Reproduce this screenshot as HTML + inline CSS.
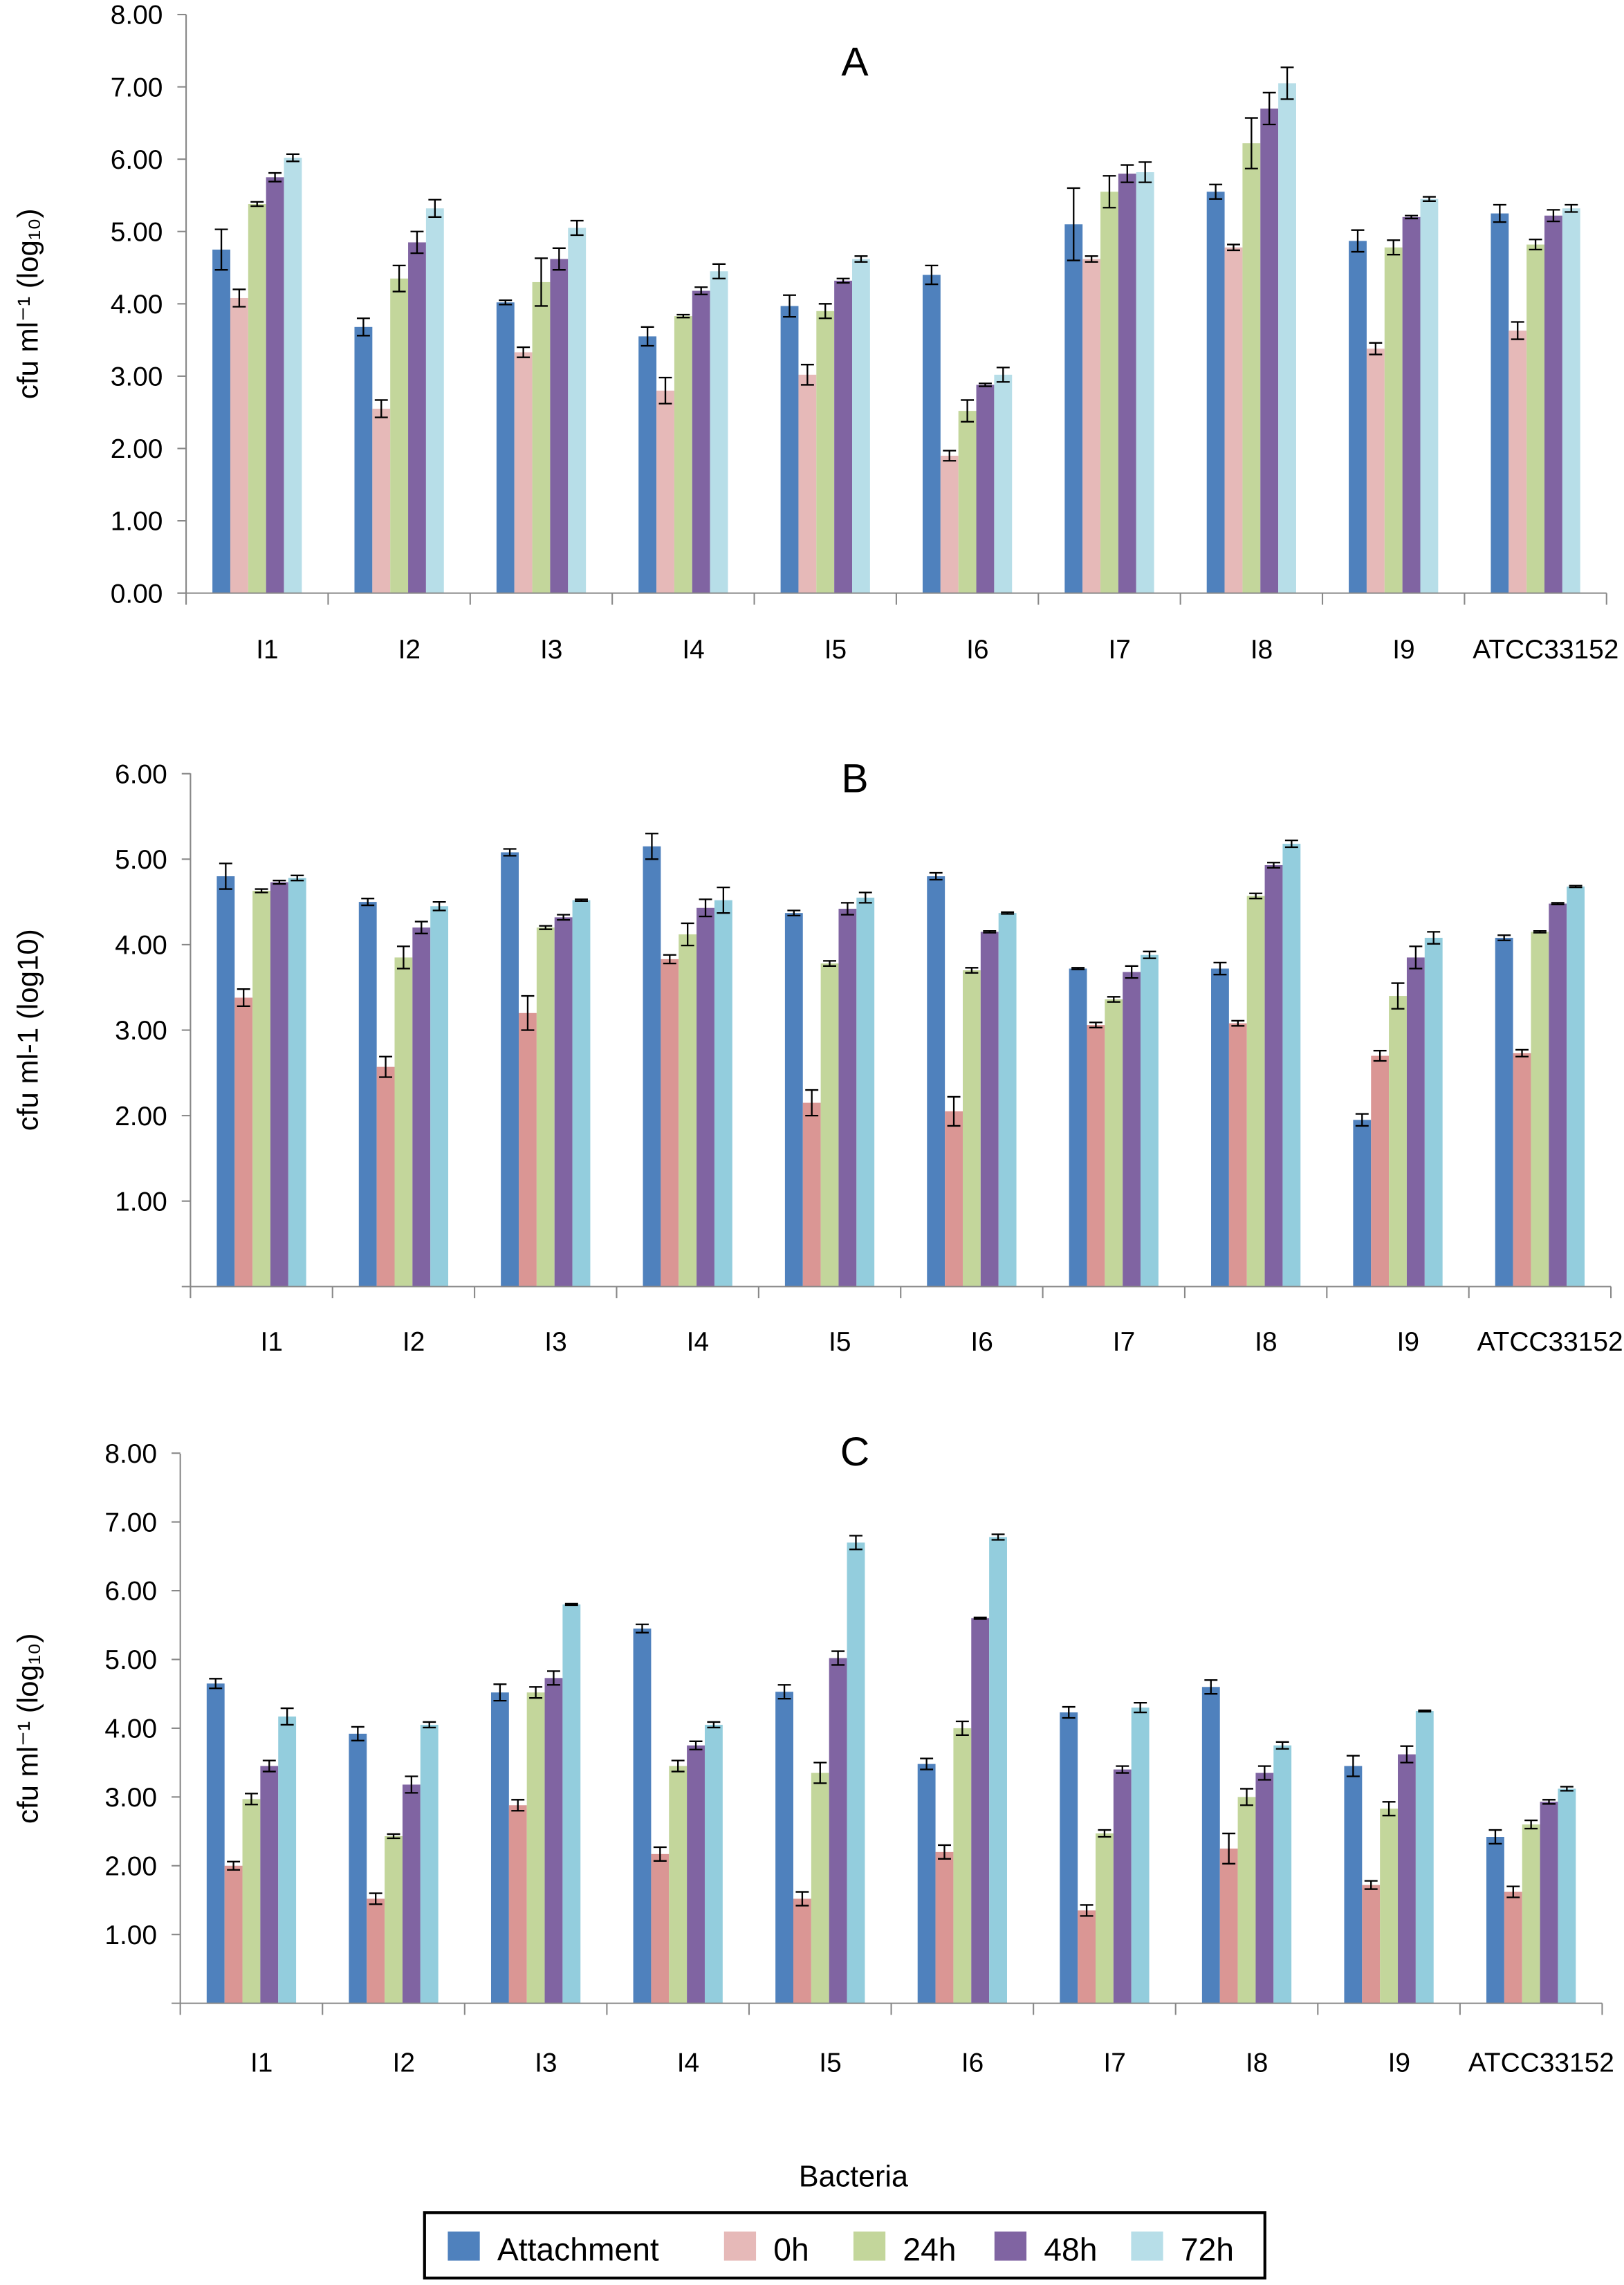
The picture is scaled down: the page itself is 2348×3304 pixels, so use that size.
<!DOCTYPE html>
<html><head><meta charset="utf-8"><style>
html,body{margin:0;padding:0;background:#fff;}
svg{display:block;}
text{font-family:"Liberation Sans",Arial,sans-serif;fill:#000;}
</style></head>
<body>
<svg id="fig" width="2348" height="3304" viewBox="0 0 1117 1571.8" xmlns="http://www.w3.org/2000/svg"></svg>
<script>
const categories = ["I1","I2","I3","I4","I5","I6","I7","I8","I9","ATCC33152"];
const seriesNames = ["Attachment","0h","24h","48h","72h"];
// Panel A values [attachment,0h,24h,48h,72h] per category
const aAttach = [4.75,3.68,4.02,3.55,3.97,4.40,5.10,5.55,4.87,5.25];
const a0h     = [4.08,2.55,3.33,2.80,3.02,1.90,4.62,4.78,3.38,3.63];
const a24h    = [5.38,4.35,4.30,3.83,3.90,2.52,5.55,6.22,4.78,4.82];
const a48h    = [5.75,4.85,4.62,4.18,4.32,2.88,5.80,6.70,5.20,5.22];
const a72h    = [6.02,5.32,5.05,4.45,4.62,3.02,5.82,7.05,5.45,5.32];
const aErrAttach = [0.28,0.12,0.03,0.13,0.15,0.13,0.50,0.10,0.15,0.12];
const aErr0h     = [0.12,0.12,0.07,0.18,0.14,0.07,0.04,0.04,0.08,0.12];
const aErr24h    = [0.03,0.18,0.33,0.02,0.10,0.15,0.22,0.35,0.10,0.07];
const aErr48h    = [0.06,0.15,0.15,0.05,0.03,0.02,0.12,0.22,0.02,0.08];
const aErr72h    = [0.05,0.12,0.10,0.10,0.04,0.10,0.14,0.22,0.03,0.05];
// Panel B
const bAttach = [4.80,4.50,5.08,5.15,4.37,4.80,3.72,3.72,1.95,4.08];
const b0h     = [3.38,2.57,3.20,3.83,2.15,2.05,3.06,3.08,2.70,2.73];
const b24h    = [4.63,3.85,4.20,4.12,3.78,3.70,3.36,4.57,3.40,4.15];
const b48h    = [4.73,4.20,4.32,4.43,4.42,4.15,3.68,4.93,3.85,4.48];
const b72h    = [4.78,4.45,4.52,4.52,4.55,4.37,3.88,5.18,4.08,4.68];
const bErrAttach = [0.15,0.04,0.04,0.15,0.03,0.04,0.01,0.07,0.07,0.03];
const bErr0h     = [0.10,0.12,0.20,0.05,0.15,0.17,0.03,0.03,0.06,0.04];
const bErr24h    = [0.02,0.13,0.02,0.13,0.03,0.03,0.03,0.03,0.15,0.01];
const bErr48h    = [0.02,0.07,0.03,0.10,0.07,0.01,0.07,0.03,0.13,0.01];
const bErr72h    = [0.03,0.05,0.01,0.15,0.06,0.01,0.04,0.04,0.07,0.01];
// Panel C
const cAttach = [4.65,3.92,4.52,5.45,4.53,3.48,4.23,4.60,3.45,2.42];
const c0h     = [2.00,1.52,2.88,2.17,1.52,2.20,1.35,2.25,1.72,1.62];
const c24h    = [2.97,2.43,4.52,3.45,3.35,4.00,2.47,3.00,2.83,2.60];
const c48h    = [3.45,3.18,4.73,3.75,5.02,5.60,3.40,3.35,3.62,2.93];
const c72h    = [4.17,4.05,5.80,4.05,6.70,6.78,4.30,3.75,4.25,3.12];
const cErrAttach = [0.07,0.10,0.12,0.06,0.10,0.08,0.08,0.10,0.15,0.10];
const cErr0h     = [0.06,0.08,0.08,0.10,0.10,0.10,0.08,0.22,0.06,0.08];
const cErr24h    = [0.08,0.03,0.08,0.08,0.15,0.10,0.05,0.12,0.10,0.06];
const cErr48h    = [0.08,0.12,0.10,0.06,0.10,0.01,0.05,0.10,0.12,0.03];
const cErr72h    = [0.12,0.04,0.01,0.04,0.10,0.04,0.07,0.05,0.01,0.03];
const aTicks = [0,1,2,3,4,5,6,7,8];
const bTicks = [1,2,3,4,5,6];
const cTicks = [1,2,3,4,5,6,7,8];

const NS="http://www.w3.org/2000/svg";
const svg=document.getElementById('fig');
function mk(tag,attrs,parent){const e=document.createElementNS(NS,tag);for(const k in attrs)e.setAttribute(k,attrs[k]);(parent||svg).appendChild(e);return e;}

const panels=[
 {id:'a',title:'A',vals:[aAttach,a0h,a24h,a48h,a72h],errs:[aErrAttach,aErr0h,aErr24h,aErr48h,aErr72h],ticks:aTicks,x0:128,x1:1105,y0:408,unit:49.75,top:10,colors:['#4f81bd','#e6b9b8','#c3d69b','#8064a2','#b7dee8'],ylab:'cfu ml\u207B\u00B9 (log\u2081\u2080)',labY:453,titleY:52},
 {id:'b',title:'B',vals:[bAttach,b0h,b24h,b48h,b72h],errs:[bErrAttach,bErr0h,bErr24h,bErr48h,bErr72h],ticks:bTicks,x0:131,x1:1108,y0:885,unit:58.8,top:532,colors:['#4f81bd','#da9694','#c3d69b','#8064a2','#93cddd'],ylab:'cfu ml-1 (log10)',labY:929,titleY:545},
 {id:'c',title:'C',vals:[cAttach,c0h,c24h,c48h,c72h],errs:[cErrAttach,cErr0h,cErr24h,cErr48h,cErr72h],ticks:cTicks,x0:124,x1:1102,y0:1378,unit:47.3,top:1000,colors:['#4f81bd','#da9694','#c3d69b','#8064a2','#93cddd'],ylab:'cfu ml\u207B\u00B9 (log\u2081\u2080)',labY:1425,titleY:1008}
];

panels.forEach(p=>{
 const g=mk('g',{});
 
 
 const cw=(p.x1-p.x0)/categories.length;
 const bw=12.3, gw=bw*5, off=(cw-gw)/2;
 const yS=v=>p.y0-v*p.unit;
 const xB=(c,s)=>p.x0+c*cw+off+s*bw;
 p.vals.forEach((arr,s)=>{
  arr.forEach((v,c)=>{
   const r=mk('rect',{x:xB(c,s),y:yS(v),width:bw,height:v*p.unit,fill:p.colors[s]},g);
   
   
  });
 });
 p.vals.forEach((arr,s)=>{
  arr.forEach((v,c)=>{
   const e=p.errs[s][c], cx=xB(c,s)+bw/2;
   const eg=mk('g',{stroke:'#000','stroke-width':1.1},g);
   
   
   mk('line',{x1:cx,x2:cx,y1:yS(v+e),y2:yS(v-e)},eg);
   mk('line',{x1:cx-4.5,x2:cx+4.5,y1:yS(v+e),y2:yS(v+e)},eg);
   mk('line',{x1:cx-4.5,x2:cx+4.5,y1:yS(v-e),y2:yS(v-e)},eg);
  });
 });
 const ax=mk('line',{x1:p.x0,x2:p.x0,y1:p.top,y2:p.y0,stroke:'#888','stroke-width':1},g);
 
 
 const bx=mk('line',{x1:p.x0-6,x2:p.x1,y1:p.y0,y2:p.y0,stroke:'#888','stroke-width':1},g);
 
 
 p.ticks.forEach(t=>{
  mk('line',{x1:p.x0-6,x2:p.x0,y1:yS(t),y2:yS(t),stroke:'#888','stroke-width':1},g);
  const tl=mk('text',{x:p.x0-16,y:yS(t)+6.5,'text-anchor':'end','font-size':18.5},g);
  tl.textContent=t.toFixed(2);
  
  
 });
 for(let i=0;i<=categories.length;i++){
  const x=p.x0+i*cw;
  mk('line',{x1:x,x2:x,y1:p.y0,y2:p.y0+8,stroke:'#888','stroke-width':1},g);
 }
 categories.forEach((c,i)=>{
  const t=mk('text',{x:p.x0+(i+0.5)*cw+7,y:p.labY,'text-anchor':'middle','font-size':18.5},g);
  t.textContent=c;
  
  
 });
 const tt=mk('text',{x:588,y:p.titleY,'text-anchor':'middle','font-size':28},g);
 tt.textContent=p.title;
 
 
 const ym=(p.top+p.y0)/2;
 const yl=mk('text',{x:0,y:0,'text-anchor':'middle','font-size':20,transform:'translate(26,'+ym+') rotate(-90)'},g);
 yl.textContent=p.ylab;
 
 
});

const xt=mk('text',{x:587,y:1504,'text-anchor':'middle','font-size':20.5});
xt.textContent='Bacteria';



const lg=mk('g',{});


mk('rect',{x:292,y:1522,width:578,height:45,fill:'#fff',stroke:'#000','stroke-width':2},lg);
const legColors=['#4f81bd','#e6b9b8','#c3d69b','#8064a2','#b7dee8'];
const legX=[308,498,587,684,778];
seriesNames.forEach((n,i)=>{
 const e=mk('g',{},lg);
 
 
 mk('rect',{x:legX[i],y:1535,width:22,height:20,fill:legColors[i]},e);
 const t=mk('text',{x:legX[i]+34,y:1555,'font-size':22},e);
 t.textContent=n;
});
</script>
</body></html>
